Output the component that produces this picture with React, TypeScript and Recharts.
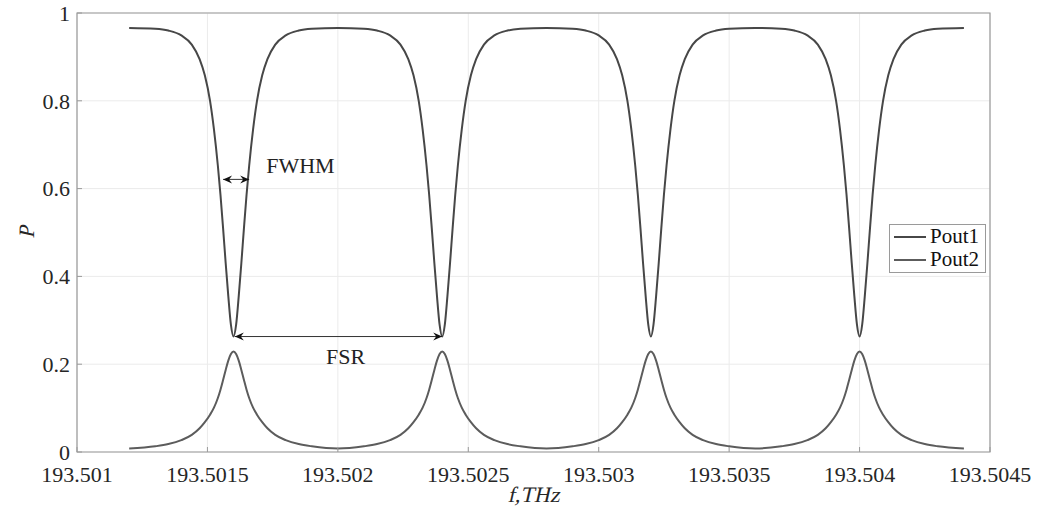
import React from 'react';
import { LineChart, Line, XAxis, YAxis, CartesianGrid, ReferenceLine, ReferenceArea } from 'recharts';

// frequency samples, THz (denser around each resonance)
const freq = [
  193.5012,
  193.5013, 193.50135, 193.5014, 193.50144, 193.50147, 193.50149, 193.50151, 193.501525, 193.50154, 193.50155,
  193.50156, 193.50157, 193.50158, 193.50159, 193.5016, 193.50161, 193.50162, 193.50163, 193.50164, 193.50165,
  193.50166, 193.501675, 193.50169, 193.50171, 193.50173, 193.50176, 193.5018, 193.50185, 193.5019, 193.502,
  193.5021, 193.50215, 193.5022, 193.50224, 193.50227, 193.50229, 193.50231, 193.502325, 193.50234, 193.50235,
  193.50236, 193.50237, 193.50238, 193.50239, 193.5024, 193.50241, 193.50242, 193.50243, 193.50244, 193.50245,
  193.50246, 193.502475, 193.50249, 193.50251, 193.50253, 193.50256, 193.5026, 193.50265, 193.5027, 193.5028,
  193.5029, 193.50295, 193.503, 193.50304, 193.50307, 193.50309, 193.50311, 193.503125, 193.50314, 193.50315,
  193.50316, 193.50317, 193.50318, 193.50319, 193.5032, 193.50321, 193.50322, 193.50323, 193.50324, 193.50325,
  193.50326, 193.503275, 193.50329, 193.50331, 193.50333, 193.50336, 193.5034, 193.50345, 193.5035, 193.5036,
  193.5037, 193.50375, 193.5038, 193.50384, 193.50387, 193.50389, 193.50391, 193.503925, 193.50394, 193.50395,
  193.50396, 193.50397, 193.50398, 193.50399, 193.504, 193.50401, 193.50402, 193.50403, 193.50404, 193.50405,
  193.50406, 193.504075, 193.50409, 193.50411, 193.50413, 193.50416, 193.5042, 193.50425, 193.5043, 193.5044,
];

const pout1 = [
  0.966,
  0.964, 0.96, 0.949, 0.928, 0.895, 0.858, 0.8, 0.735, 0.652, 0.586,
  0.51, 0.43, 0.355, 0.29, 0.263, 0.29, 0.355, 0.43, 0.51, 0.586,
  0.652, 0.735, 0.8, 0.858, 0.895, 0.928, 0.949, 0.96, 0.964, 0.966,
  0.964, 0.96, 0.949, 0.928, 0.895, 0.858, 0.8, 0.735, 0.652, 0.586,
  0.51, 0.43, 0.355, 0.29, 0.263, 0.29, 0.355, 0.43, 0.51, 0.586,
  0.652, 0.735, 0.8, 0.858, 0.895, 0.928, 0.949, 0.96, 0.964, 0.966,
  0.964, 0.96, 0.949, 0.928, 0.895, 0.858, 0.8, 0.735, 0.652, 0.586,
  0.51, 0.43, 0.355, 0.29, 0.263, 0.29, 0.355, 0.43, 0.51, 0.586,
  0.652, 0.735, 0.8, 0.858, 0.895, 0.928, 0.949, 0.96, 0.964, 0.966,
  0.964, 0.96, 0.949, 0.928, 0.895, 0.858, 0.8, 0.735, 0.652, 0.586,
  0.51, 0.43, 0.355, 0.29, 0.263, 0.29, 0.355, 0.43, 0.51, 0.586,
  0.652, 0.735, 0.8, 0.858, 0.895, 0.928, 0.949, 0.96, 0.964, 0.966,
];

const pout2 = [
  0.008,
  0.013, 0.018, 0.027, 0.039, 0.054, 0.068, 0.085, 0.101, 0.123, 0.142,
  0.164, 0.187, 0.208, 0.223, 0.229, 0.223, 0.208, 0.187, 0.164, 0.142,
  0.123, 0.101, 0.085, 0.068, 0.054, 0.039, 0.027, 0.018, 0.013, 0.008,
  0.013, 0.018, 0.027, 0.039, 0.054, 0.068, 0.085, 0.101, 0.123, 0.142,
  0.164, 0.187, 0.208, 0.223, 0.229, 0.223, 0.208, 0.187, 0.164, 0.142,
  0.123, 0.101, 0.085, 0.068, 0.054, 0.039, 0.027, 0.018, 0.013, 0.008,
  0.013, 0.018, 0.027, 0.039, 0.054, 0.068, 0.085, 0.101, 0.123, 0.142,
  0.164, 0.187, 0.208, 0.223, 0.229, 0.223, 0.208, 0.187, 0.164, 0.142,
  0.123, 0.101, 0.085, 0.068, 0.054, 0.039, 0.027, 0.018, 0.013, 0.008,
  0.013, 0.018, 0.027, 0.039, 0.054, 0.068, 0.085, 0.101, 0.123, 0.142,
  0.164, 0.187, 0.208, 0.223, 0.229, 0.223, 0.208, 0.187, 0.164, 0.142,
  0.123, 0.101, 0.085, 0.068, 0.054, 0.039, 0.027, 0.018, 0.013, 0.008,
];

const xTicks = [193.501, 193.5015, 193.502, 193.5025, 193.503, 193.5035, 193.504, 193.5045];
const xTickLabels = ['193.501', '193.5015', '193.502', '193.5025', '193.503', '193.5035', '193.504', '193.5045'];
const yTicks = [0, 0.2, 0.4, 0.6, 0.8, 1];
const yTickLabels = ['0', '0.2', '0.4', '0.6', '0.8', '1'];
const seriesNames = ['Pout1', 'Pout2'];

// annotation arrows (data coords)
const fwhmSpan = [193.50156, 193.50166];
const fwhmLevel = 0.621;
const fsrSpan = [193.501605, 193.5024];
const fsrLevel = 0.263;

const data = freq.map((f, i) => ({ f, pout1: pout1[i], pout2: pout2[i] }));

const FONT = '"Liberation Serif", "Times New Roman", serif';
const COLORS = ['#474747', '#5c5c5c'];
const TEXT_COLOR = '#262626';
const BOX = '#9a9a9a';

const XTick = (p: any) => (
  <text x={p.x} y={p.y} dy="0.71em" textAnchor="middle" fontFamily={FONT} fontSize={22} fill={TEXT_COLOR}>
    {xTickLabels[p.index] ?? String(p.payload.value)}
  </text>
);

const YTick = (p: any) => (
  <text x={p.x} y={p.y} dy="0.355em" textAnchor="end" fontFamily={FONT} fontSize={22} fill={TEXT_COLOR}>
    {yTickLabels[p.index] ?? String(p.payload.value)}
  </text>
);

const NoLabel = () => <g />;

// slanted serif text (italic look)
const Slanted = ({ x, y, rotate = 0, children }: any) => (
  <text
    transform={`translate(${x}, ${y}) rotate(${rotate}) skewX(-13)`}
    textAnchor="middle"
    fontFamily={FONT}
    fontSize={22}
    fill={TEXT_COLOR}
  >
    {children}
  </text>
);

const arrowShape = (text: string, dx: number, dy: number, anchor: string) => (props: any) => {
  const { x1, y1, x2 } = props;
  const y = y1;
  const l = Math.min(x1, x2);
  const r = Math.max(x1, x2);
  return (
    <g>
      <line x1={l} y1={y} x2={r} y2={y} stroke="#333" strokeWidth={1} />
      <path d={`M${l},${y} L${l + 9},${y - 4} L${l + 6},${y} L${l + 9},${y + 4} Z`} fill="#111" />
      <path d={`M${r},${y} L${r - 9},${y - 4} L${r - 6},${y} L${r - 9},${y + 4} Z`} fill="#111" />
      <text
        x={(anchor === 'start' ? r : (l + r) / 2) + dx}
        y={y + dy}
        textAnchor={anchor}
        fontFamily={FONT}
        fontSize={22}
        fill="#222"
      >
        {text}
      </text>
    </g>
  );
};

const LegendBox = () => (
  <div
    style={{
      position: 'absolute',
      left: 889,
      top: 224,
      width: 95,
      border: `1px solid ${BOX}`,
      background: '#fff',
      fontFamily: FONT,
      fontSize: 21,
      color: '#111',
      lineHeight: '23px',
      padding: '0 0 1px 0',
    }}
  >
    {seriesNames.map((name, i) => (
      <div key={name} style={{ display: 'flex', alignItems: 'center', height: 23 }}>
        <svg width={38} height={6} style={{ marginLeft: 2 }}>
          <line x1={2} y1={3} x2={34} y2={3} stroke={COLORS[i]} strokeWidth={2} />
        </svg>
        <span>{name}</span>
      </div>
    ))}
  </div>
);

export default function App() {
  return (
    <div
      style={{ position: 'absolute', left: 0, top: 0, width: 1046, height: 514, background: '#fff', fontFamily: FONT }}
    >
      <LineChart width={1046} height={514} data={data} margin={{ top: 13, right: 56, bottom: 22, left: 7 }}>
        <CartesianGrid stroke="#ebebeb" />
        <XAxis
          dataKey="f"
          type="number"
          domain={[193.501, 193.5045]}
          ticks={xTicks}
          interval={0}
          allowDataOverflow
          height={40}
          axisLine={false}
          tickLine={{ stroke: BOX }}
          tickSize={-5}
          tickMargin={19}
          tick={<XTick />}
          label={{
            content: (p: any) => (
              <Slanted x={p.viewBox.x + p.viewBox.width / 2} y={p.viewBox.y + 50}>
                f,THz
              </Slanted>
            ),
          }}
        />
        <XAxis
          xAxisId="top"
          orientation="top"
          dataKey="f"
          type="number"
          domain={[193.501, 193.5045]}
          ticks={xTicks}
          interval={0}
          allowDataOverflow
          height={0}
          axisLine={false}
          tickLine={{ stroke: BOX }}
          tickSize={-5}
          tick={<NoLabel />}
        />
        <YAxis
          type="number"
          domain={[0, 1]}
          ticks={yTicks}
          interval={0}
          width={70}
          axisLine={false}
          tickLine={{ stroke: BOX }}
          tickSize={-5}
          tickMargin={12}
          tick={<YTick />}
          label={{
            content: (p: any) => (
              <Slanted x={p.viewBox.x + 27} y={p.viewBox.y + p.viewBox.height / 2} rotate={-90}>
                P
              </Slanted>
            ),
          }}
        />
        <YAxis
          yAxisId="right"
          orientation="right"
          type="number"
          domain={[0, 1]}
          ticks={yTicks}
          interval={0}
          width={0}
          axisLine={false}
          tickLine={{ stroke: BOX }}
          tickSize={-5}
          tick={<NoLabel />}
        />
        <ReferenceArea x1={193.501} x2={193.5045} y1={0} y2={1} fill="none" stroke={BOX} strokeWidth={1.2} />
        <Line
          dataKey="pout1"
          name={seriesNames[0]}
          type="monotone"
          stroke={COLORS[0]}
          strokeWidth={2}
          dot={false}
          isAnimationActive={false}
        />
        <Line
          dataKey="pout2"
          name={seriesNames[1]}
          type="monotone"
          stroke={COLORS[1]}
          strokeWidth={2}
          dot={false}
          isAnimationActive={false}
        />
        <ReferenceLine
          segment={[{ x: fwhmSpan[0], y: fwhmLevel }, { x: fwhmSpan[1], y: fwhmLevel }]}
          shape={arrowShape('FWHM', 17, -6, 'start')}
        />
        <ReferenceLine
          segment={[{ x: fsrSpan[0], y: fsrLevel }, { x: fsrSpan[1], y: fsrLevel }]}
          shape={arrowShape('FSR', 7, 27, 'middle')}
        />
      </LineChart>
      <LegendBox />
    </div>
  );
}
